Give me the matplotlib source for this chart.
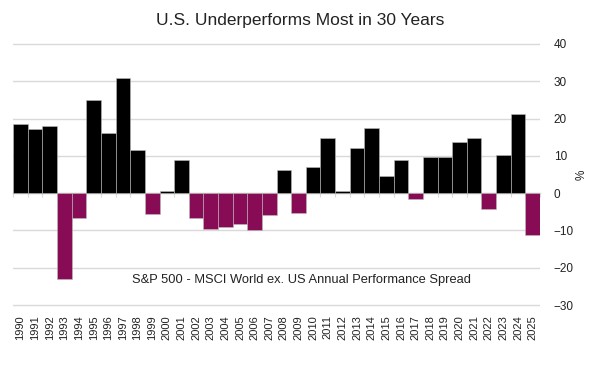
import matplotlib
matplotlib.use('Agg')
import matplotlib.pyplot as plt
import numpy as np

plt.rcParams['font.family'] = ['Liberation Sans', 'DejaVu Sans']

years = list(range(1990, 2026))
spread = [18.5, 17.1, 18.0, -23.1, -6.7, 24.9, 16.0, 30.9, 11.6, -5.6,
          0.6, 9.0, -6.7, -9.6, -9.1, -8.3, -9.9, -5.8, 6.3, -5.4,
          6.9, 14.7, 0.5, 12.0, 17.6, 4.6, 9.0, -1.6, 9.8, 9.8,
          13.8, 14.9, -4.3, 10.1, 21.2, -11.3]
y_ticks = [-30, -20, -10, 0, 10, 20, 30, 40]

POS = '#000000'
NEG = '#870c55'
GRID = '#d9d9d9'
TEXT = '#222222'

fig = plt.figure(figsize=(6, 3.7), dpi=100)
ax = fig.add_axes([0.022, 0.1706, 0.878, 0.7156])

x = np.arange(len(years))
colors = [POS if v >= 0 else NEG for v in spread]
ax.bar(x, spread, width=1.0, color=colors, edgecolor='#bbbbbb',
       linewidth=0.4, zorder=3)

ax.set_xlim(-0.5, len(years) - 0.5)
ax.set_ylim(-30.5, 40.5)
ax.set_yticks(y_ticks)
ax.yaxis.tick_right()
ax.tick_params(axis='y', length=0, pad=10, labelsize=8.5, labelcolor=TEXT)
ax.grid(axis='y', color=GRID, linewidth=1, zorder=0)
ax.set_axisbelow(True)
ax.set_ylabel('%', rotation=90, fontsize=8.5, color=TEXT, labelpad=1)
ax.yaxis.set_label_position('right')

ax.set_xticks(x)
ax.set_xticklabels([str(y) for y in years], rotation=90, fontsize=8,
                   color=TEXT)
ax.tick_params(axis='x', length=0, pad=6)

for s in ax.spines.values():
    s.set_visible(False)

# category axis sitting on the zero line, ticks between bars
sec = ax.secondary_xaxis(0, transform=ax.transData)
sec.set_xticks(np.arange(len(years) + 1) - 0.5)
sec.set_xticklabels([])
sec.tick_params(axis='x', length=3, width=0.8, color=GRID, direction='out')
sec.spines['bottom'].set_color(GRID)
sec.spines['bottom'].set_linewidth(1)

ax.text(0.548, 0.1, 'S&P 500 - MSCI World ex. US Annual Performance Spread',
        transform=ax.transAxes, ha='center', va='center', fontsize=9.3,
        color=TEXT, zorder=5)

fig.text(0.5, 0.945, 'U.S. Underperforms Most in 30 Years', ha='center',
         va='center', fontsize=12.5, color=TEXT)

fig.savefig('out.png', dpi=100, facecolor='white')
